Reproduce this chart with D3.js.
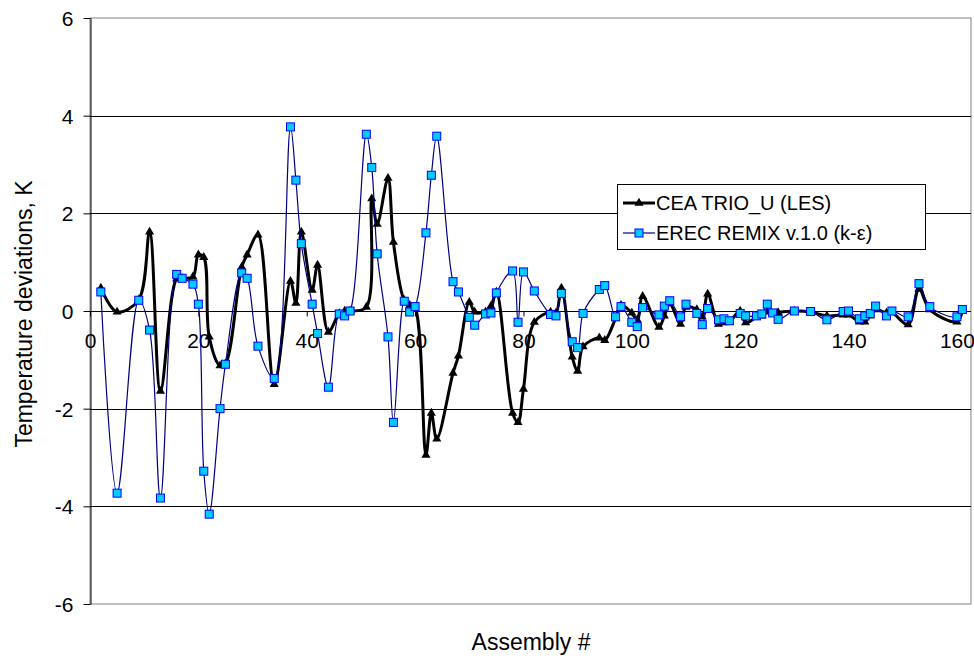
<!DOCTYPE html>
<html>
<head>
<meta charset="utf-8">
<script src="https://cdn.jsdelivr.net/npm/d3@7/dist/d3.min.js"></script>
<style>
  body { margin: 0; background: #fff; }
  svg { display: block; font-family: "Liberation Sans", Arial, sans-serif; }
</style>
</head>
<body>
<svg id="chart" width="974" height="658"></svg>
<script>
// assembly numbers shared by both series
const assembly = [2,5,9,11,13,16,17,19,20,21,22,24,25,28,29,31,34,37,38,39,41,42,44,46,47,
  48,51,52,53,55,56,58,59,60,62,63,64,67,68,70,71,73,74,75,78,79,80,82,85,86,87,89,90,91,94,
  95,97,98,100,101,102,105,106,107,109,110,112,113,114,116,117,118,120,121,123,124,125,126,127,
  130,133,136,139,140,142,143,144,145,147,148,151,153,155,160,161];

const trioU = [0.47,-0.02,0.23,1.62,-1.64,0.66,0.67,0.7,1.15,1.1,-0.53,-1.12,-1.08,0.9,1.15,
  1.56,-1.5,0.61,0.16,1.62,0.43,0.94,-0.43,-0.05,0.0,0.0,0.08,2.3,1.78,2.72,1.41,0.22,0.12,
  0.06,-2.95,-2.09,-2.62,-1.27,-0.92,0.18,-0.02,-0.02,0.1,0.39,-2.09,-2.28,-1.6,-0.23,-0.02,
  -0.04,0.47,-0.94,-1.23,-0.73,-0.55,-0.6,-0.15,0.12,-0.04,-0.18,0.3,-0.33,-0.1,0.15,-0.27,
  0.08,0.03,-0.12,0.35,-0.27,-0.24,-0.22,0.0,-0.24,-0.13,-0.1,-0.02,-0.05,-0.03,0.0,-0.02,
  -0.1,-0.08,-0.08,-0.22,-0.22,-0.1,0.03,-0.04,-0.03,-0.28,0.45,0.03,-0.22,0.0];

const remix = [0.39,-3.73,0.22,-0.39,-3.83,0.75,0.67,0.55,0.14,-3.28,-4.16,-2.0,-1.09,0.78,
  0.67,-0.72,-1.38,3.77,2.68,1.38,0.14,-0.46,-1.56,-0.06,-0.1,0.0,3.62,2.94,1.17,-0.53,-2.28,
  0.2,-0.02,0.09,1.6,2.78,3.58,0.6,0.39,-0.13,-0.29,-0.06,-0.04,0.37,0.82,-0.23,0.8,0.41,
  -0.07,-0.1,0.36,-0.63,-0.75,-0.05,0.44,0.52,-0.12,0.09,-0.23,-0.32,0.07,-0.08,0.1,0.21,
  -0.12,0.14,-0.05,-0.28,0.05,-0.18,-0.16,-0.2,-0.05,-0.1,-0.1,-0.06,0.14,-0.04,-0.17,0.0,
  -0.01,-0.18,-0.01,0.0,-0.16,-0.1,-0.05,0.1,-0.1,0.0,-0.12,0.56,0.09,-0.12,0.03];

const seriesNames = ["CEA TRIO_U (LES)", "EREC REMIX v.1.0 (k-\u03b5)"];
const xTicks = [0,20,40,60,80,100,120,140,160];
const yTicks = [-6,-4,-2,0,2,4,6];

const svg = d3.select("#chart");
const plotLeft = 90, plotRight = 971, plotTop = 18, plotBottom = 604;

const x = d3.scaleLinear().domain([0, 162.6]).range([plotLeft, plotRight]);
const y = d3.scaleLinear().domain([-6, 6]).range([plotBottom, plotTop]);

// plot area frame
svg.append("rect")
  .attr("x", plotLeft).attr("y", plotTop)
  .attr("width", plotRight - plotLeft).attr("height", plotBottom - plotTop)
  .attr("fill", "none").attr("stroke", "#808080").attr("stroke-width", 1);

// horizontal gridlines
svg.append("g").selectAll("line")
  .data(yTicks.filter(d => d > -6 && d < 6))
  .join("line")
  .attr("x1", plotLeft).attr("x2", plotRight)
  .attr("y1", d => Math.round(y(d)) + 0.5).attr("y2", d => Math.round(y(d)) + 0.5)
  .attr("stroke", "#000").attr("stroke-width", 1);

// y axis
const yAxis = svg.append("g")
  .attr("transform", `translate(${plotLeft + 0.5},0)`)
  .call(d3.axisLeft(y).tickValues(yTicks).tickSize(7).tickSizeOuter(0).tickFormat(d => String(d)));
yAxis.select(".domain").attr("stroke", "#000");
yAxis.selectAll(".tick line").attr("stroke", "#000");
yAxis.selectAll("text")
  .attr("font-size", 21).attr("fill", "#000")
  .attr("font-family", "Liberation Sans, Arial, sans-serif")
  .attr("x", -17).attr("dy", "0.36em");

// x axis crossing at zero
const xAxis = svg.append("g")
  .attr("transform", `translate(0,${Math.round(y(0)) + 0.5})`)
  .call(d3.axisBottom(x).tickValues(xTicks).tickSize(5).tickSizeOuter(0).tickFormat(d => String(d)));
xAxis.select(".domain").remove();
xAxis.selectAll(".tick line").attr("stroke", "#000");
xAxis.selectAll("text")
  .attr("font-size", 21).attr("fill", "#000")
  .attr("font-family", "Liberation Sans, Arial, sans-serif")
  .attr("y", 22).attr("dy", "0.71em");

const curve = d3.curveCatmullRom.alpha(0.5);
const line = d3.line().x(d => x(d[0])).y(d => y(d[1])).curve(curve);

const trioPts = assembly.map((a, i) => [a, trioU[i]]);
const remixPts = assembly.map((a, i) => [a, remix[i]]);

// CEA TRIO_U series
svg.append("path")
  .datum(trioPts)
  .attr("d", line)
  .attr("fill", "none").attr("stroke", "#000").attr("stroke-width", 3)
  .attr("stroke-linejoin", "round");

const tri = d3.symbol().type(d3.symbolTriangle).size(36);
svg.append("g").selectAll("path")
  .data(trioPts)
  .join("path")
  .attr("d", tri)
  .attr("transform", d => `translate(${x(d[0])},${y(d[1])})`)
  .attr("fill", "#000");

// EREC REMIX series
svg.append("path")
  .datum(remixPts)
  .attr("d", line)
  .attr("fill", "none").attr("stroke", "#000080").attr("stroke-width", 1.2);

svg.append("g").selectAll("rect")
  .data(remixPts)
  .join("rect")
  .attr("x", d => x(d[0]) - 4).attr("y", d => y(d[1]) - 4)
  .attr("width", 8).attr("height", 8)
  .attr("fill", "#00ccff").attr("stroke", "#0000ff").attr("stroke-width", 1);

// legend
const lg = svg.append("g");
lg.append("rect")
  .attr("x", 617.5).attr("y", 184.5).attr("width", 308).attr("height", 65)
  .attr("fill", "#fff").attr("stroke", "#000");

lg.append("line")
  .attr("x1", 623).attr("x2", 655).attr("y1", 203).attr("y2", 203)
  .attr("stroke", "#000").attr("stroke-width", 3);
lg.append("path").attr("d", tri).attr("transform", "translate(639,203)").attr("fill", "#000");

lg.append("line")
  .attr("x1", 623).attr("x2", 655).attr("y1", 233).attr("y2", 233)
  .attr("stroke", "#000080").attr("stroke-width", 1.2);
lg.append("rect")
  .attr("x", 635).attr("y", 229).attr("width", 8).attr("height", 8)
  .attr("fill", "#00ccff").attr("stroke", "#0000ff");

lg.selectAll("text")
  .data(seriesNames)
  .join("text")
  .attr("x", 656).attr("y", (d, i) => 210 + i * 30)
  .attr("font-size", 20).attr("fill", "#000")
  .text(d => d);

// axis titles
svg.append("text")
  .attr("x", 531).attr("y", 650)
  .attr("text-anchor", "middle").attr("font-size", 23)
  .text("Assembly #");

svg.append("text")
  .attr("transform", "translate(32,314) rotate(-90)")
  .attr("text-anchor", "middle").attr("font-size", 23)
  .text("Temperature deviations, K");
</script>
</body>
</html>
